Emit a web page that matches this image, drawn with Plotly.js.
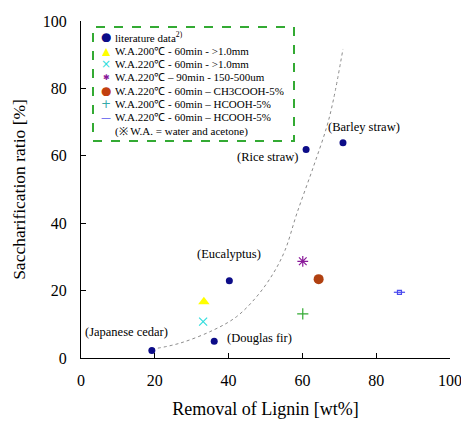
<!DOCTYPE html>
<html>
<head>
<meta charset="utf-8">
<script src="https://cdn.plot.ly/plotly-3.0.1.min.js"></script>
<style>html,body{margin:0;padding:0;background:#fff;}#chart{width:461px;height:421px;}</style>
</head>
<body>
<div id="chart"></div>
<script>
// ---- data ----
const litNames = ['Japanese cedar', 'Douglas fir', 'Eucalyptus', 'Rice straw', 'Barley straw'];
const litX = [19.2, 36.1, 40.2, 61.0, 71.0];
const litY = [2.2, 5.0, 22.9, 61.9, 63.9];

const wa200Coarse_X = [33.3];
const wa200Coarse_Y = [16.7];
const wa220Coarse_X = [33.1];
const wa220Coarse_Y = [10.8];
const wa220Fine_X = [60.1];
const wa220Fine_Y = [28.7];
const wa220Acetic_X = [64.4];
const wa220Acetic_Y = [23.4];
const wa200Formic_X = [60.1];
const wa200Formic_Y = [13.1];
const wa220Formic_X = [86.3];
const wa220Formic_Y = [19.5];

// trend curve
const curveX = [19.2, 26.8, 35.9, 42.2, 47.6, 52.1, 55.3, 58.5, 63.0, 66.6, 68.4, 71.0];
const curveY = [2.6, 4.4, 8.3, 12.3, 18.2, 25.1, 32.0, 42.9, 56.8, 68.6, 76.6, 91.7];

const legendLabels = [
  'literature data<sup>2)</sup>',
  'W.A.200℃ - 60min - &gt;1.0mm',
  'W.A.220℃ - 60min - &gt;1.0mm',
  'W.A.220℃ – 90min - 150-500um',
  'W.A.220℃ - 60min – CH3COOH-5%',
  'W.A.200℃ - 60min – HCOOH-5%',
  'W.A.220℃ - 60min – HCOOH-5%'
];
const legendNote = '(※ W.A. = water and acetone)';
const xTitle = 'Removal of Lignin [wt%]';
const yTitle = 'Saccharification ratio [%]';

// ---- styles ----
const serif = 'Liberation Serif';
const legendGlyphs = [
  {t: '●', c: '#0c0c88', s: 12},
  {t: '▲', c: '#ffff00', s: 11},
  {t: '×', c: '#33dddd', s: 12},
  {t: '✱', c: '#8a1a9a', s: 8},
  {t: '●', c: '#c24010', s: 12},
  {t: '+', c: '#33aaaa', s: 12},
  {t: '—', c: '#5a5aee', s: 10}
];
const labelOffsets = [[-25, 19], [45, 3], [0, 27], [-39, -8], [21, 16]];

const traces = [
  {x: curveX, y: curveY, mode: 'lines', line: {color: '#8c8c8c', dash: 'dot', width: 1, shape: 'spline', smoothing: 1}, hoverinfo: 'skip'},
  {x: litX, y: litY, mode: 'markers', marker: {symbol: 'circle', size: 7, color: '#0c0c88'}},
  {x: wa200Coarse_X, y: wa200Coarse_Y, mode: 'markers', marker: {symbol: 'triangle-up', size: 10, color: '#ffff00'}},
  {x: wa220Coarse_X, y: wa220Coarse_Y, mode: 'markers', marker: {symbol: 'x-thin-open', size: 8, color: '#33dddd', line: {width: 1.2, color: '#33dddd'}}},
  {x: wa220Fine_X, y: wa220Fine_Y, mode: 'markers', marker: {symbol: 'asterisk-open', size: 9, color: '#8a1a9a', line: {width: 1.2, color: '#8a1a9a'}}},
  {x: wa220Acetic_X, y: wa220Acetic_Y, mode: 'markers', marker: {symbol: 'circle', size: 10, color: '#b04010'}},
  {x: wa200Formic_X, y: wa200Formic_Y, mode: 'markers', marker: {symbol: 'cross-thin-open', size: 8, color: '#33aa33', line: {width: 1.2, color: '#33aa33'}}},
  {x: wa220Formic_X, y: wa220Formic_Y, mode: 'markers', marker: {symbol: 'square-open', size: 4, color: '#4a4aee', line: {width: 1.2, color: '#4a4aee'}}},
  {x: wa220Formic_X, y: wa220Formic_Y, mode: 'markers', marker: {symbol: 'line-ew-open', size: 8, color: '#4a4aee', line: {width: 1.2, color: '#4a4aee'}}}
];

const annotations = [];
// point labels
litNames.forEach((n, i) => {
  annotations.push({x: litX[i], y: litY[i], xref: 'x', yref: 'y', text: '(' + n + ')', showarrow: false,
    xshift: labelOffsets[i][0], yshift: labelOffsets[i][1], font: {family: serif, size: 12.5, color: '#000'}});
});
// legend (text-based)
const plotL = 81, plotT = 21, plotW = 369, plotH = 337;
const px = v => (v - plotL) / plotW;
const py = v => (plotT + plotH - v) / plotH;
const rowTop = 37.5, rowStep = 13.3;
legendLabels.forEach((lab, i) => {
  const yy = py(rowTop + i * rowStep);
  annotations.push({x: px(106), y: yy, xref: 'paper', yref: 'paper', xanchor: 'center', yanchor: 'middle', showarrow: false,
    text: legendGlyphs[i].t, font: {family: 'DejaVu Sans', size: legendGlyphs[i].s, color: legendGlyphs[i].c}, borderpad: 0, height: 10});
  annotations.push({x: px(114), y: yy, xref: 'paper', yref: 'paper', xanchor: 'left', yanchor: 'middle', showarrow: false,
    text: lab, font: {family: serif, size: 11, color: '#000'}, borderpad: 0, height: 12});
});
annotations.push({x: px(114), y: py(rowTop + 7 * rowStep), xref: 'paper', yref: 'paper', xanchor: 'left', yanchor: 'middle', showarrow: false,
  text: legendNote, font: {family: serif, size: 11, color: '#000'}, borderpad: 0, height: 12});

const layout = {
  width: 461, height: 421,
  margin: {l: plotL, r: 461 - plotL - plotW, t: plotT, b: 421 - plotT - plotH},
  paper_bgcolor: '#fff', plot_bgcolor: '#fff',
  showlegend: false,
  font: {family: serif, color: '#000'},
  xaxis: {range: [0, 100], dtick: 20, tick0: 0, ticks: 'inside', ticklen: 5, tickcolor: '#000', showline: true, linecolor: '#000', linewidth: 1,
    showgrid: false, zeroline: false, tickfont: {family: serif, size: 16}, ticklabelstandoff: 8, ticklabeloverflow: 'allow',
    title: {text: xTitle, font: {family: serif, size: 18}, standoff: 14}},
  yaxis: {range: [0, 100], dtick: 20, tick0: 0, ticks: 'inside', ticklen: 5, tickcolor: '#000', showline: true, linecolor: '#000', linewidth: 1,
    showgrid: false, zeroline: false, tickfont: {family: serif, size: 16}, ticklabelstandoff: 10,
    title: {text: yTitle, font: {family: serif, size: 17.5}, standoff: 12}},
  shapes: [{type: 'rect', xref: 'paper', yref: 'paper', x0: px(93), x1: px(294), y0: py(141), y1: py(27),
    line: {color: '#33aa33', width: 2, dash: 'dash'}, fillcolor: 'rgba(0,0,0,0)'}],
  annotations: annotations
};

Plotly.newPlot('chart', traces, layout, {staticPlot: true, displayModeBar: false});
</script>
</body>
</html>
